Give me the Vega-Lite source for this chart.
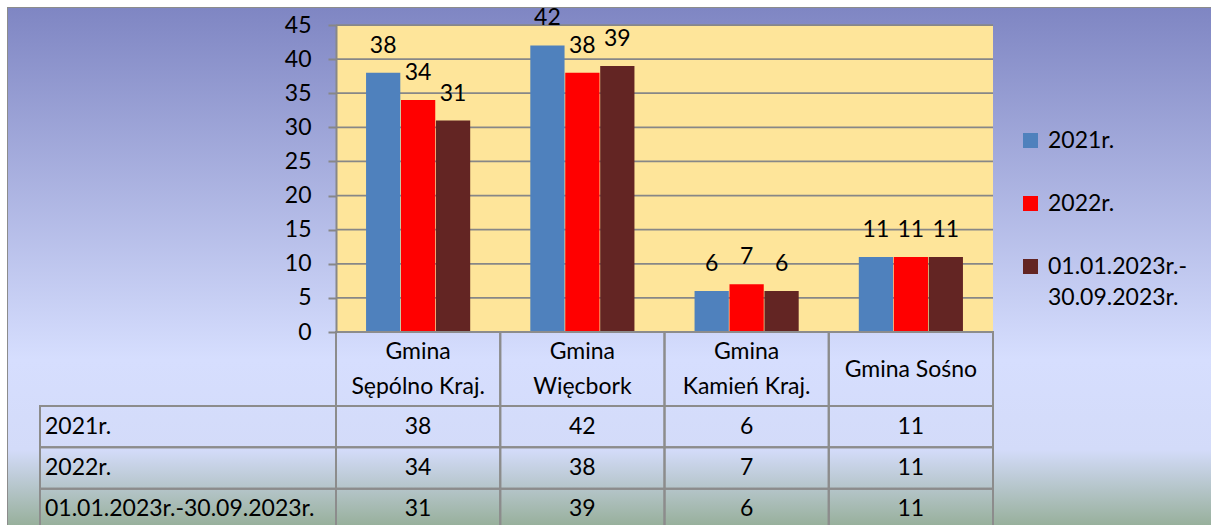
{
  "$schema": "https://vega.github.io/schema/vega-lite/v6.json",
  "width": 1203,
  "height": 517,
  "autosize": "none",
  "padding": {"left": 8, "top": 8, "right": 0, "bottom": 0},
  "background": "white",
  "config": {
    "view": {"stroke": "#8C8C8C", "strokeWidth": 2},
    "font": "Lato",
    "text": {"font": "Lato", "fontSize": 23, "color": "black"}
  },
  "datasets": {
    "dane": [
      {"gmina": "Gmina Sępólno Kraj.", "okres": "2021r.", "liczba": 38},
      {"gmina": "Gmina Sępólno Kraj.", "okres": "2022r.", "liczba": 34},
      {"gmina": "Gmina Sępólno Kraj.", "okres": "01.01.2023r.-30.09.2023r.", "liczba": 31},
      {"gmina": "Gmina Więcbork", "okres": "2021r.", "liczba": 42},
      {"gmina": "Gmina Więcbork", "okres": "2022r.", "liczba": 38},
      {"gmina": "Gmina Więcbork", "okres": "01.01.2023r.-30.09.2023r.", "liczba": 39},
      {"gmina": "Gmina Kamień Kraj.", "okres": "2021r.", "liczba": 6},
      {"gmina": "Gmina Kamień Kraj.", "okres": "2022r.", "liczba": 7},
      {"gmina": "Gmina Kamień Kraj.", "okres": "01.01.2023r.-30.09.2023r.", "liczba": 6},
      {"gmina": "Gmina Sośno", "okres": "2021r.", "liczba": 11},
      {"gmina": "Gmina Sośno", "okres": "2022r.", "liczba": 11},
      {"gmina": "Gmina Sośno", "okres": "01.01.2023r.-30.09.2023r.", "liczba": 11}
    ],
    "gminy": [
      {"gmina": "Gmina Sępólno Kraj."},
      {"gmina": "Gmina Więcbork"},
      {"gmina": "Gmina Kamień Kraj."},
      {"gmina": "Gmina Sośno"}
    ],
    "naglowki": [
      {"gmina": "Gmina Sępólno Kraj.", "tekst": "Gmina", "wiersz": "górny"},
      {"gmina": "Gmina Sępólno Kraj.", "tekst": "Sępólno Kraj.", "wiersz": "dolny"},
      {"gmina": "Gmina Więcbork", "tekst": "Gmina", "wiersz": "górny"},
      {"gmina": "Gmina Więcbork", "tekst": "Więcbork", "wiersz": "dolny"},
      {"gmina": "Gmina Kamień Kraj.", "tekst": "Gmina", "wiersz": "górny"},
      {"gmina": "Gmina Kamień Kraj.", "tekst": "Kamień Kraj.", "wiersz": "dolny"},
      {"gmina": "Gmina Sośno", "tekst": "Gmina Sośno", "wiersz": "środkowy"}
    ],
    "siatka": [
      {"wartosc": 0}, {"wartosc": 5}, {"wartosc": 10}, {"wartosc": 15}, {"wartosc": 20},
      {"wartosc": 25}, {"wartosc": 30}, {"wartosc": 35}, {"wartosc": 40}, {"wartosc": 45}
    ]
  },
  "layer": [
    {
      "data": {"values": [{}]},
      "mark": {
        "type": "rect",
        "strokeWidth": 0,
        "fill": {
          "gradient": "linear", "x1": 0, "y1": 0, "x2": 0, "y2": 1,
          "stops": [
            {"offset": 0, "color": "#7F86C3"},
            {"offset": 0.68, "color": "#D6DEFE"},
            {"offset": 0.855, "color": "#D3DBF9"},
            {"offset": 1, "color": "#98B09C"}
          ]
        }
      },
      "encoding": {}
    },
    {
      "layer": [
        {
          "data": {"values": [{}]},
          "mark": {"type": "rect", "color": "#FEE59A", "strokeWidth": 0},
          "encoding": {
            "x": {"datum": 0, "type": "quantitative", "scale": {"domain": [0, 1], "range": [328, 985], "nice": false, "zero": false}, "axis": null},
            "x2": {"datum": 1},
            "y": {"datum": 0, "type": "quantitative", "scale": {"domain": [0, 45], "range": [324, 17], "nice": false}, "axis": null},
            "y2": {"datum": 45}
          }
        },
        {
          "data": {"name": "siatka"},
          "mark": {"type": "rule", "color": "#878787", "strokeWidth": 1.75},
          "encoding": {
            "x": {"datum": 0, "type": "quantitative"},
            "x2": {"datum": 1},
            "y": {"field": "wartosc", "type": "quantitative"}
          }
        }
      ]
    },
    {
      "data": {"name": "dane"},
      "layer": [
        {
          "mark": {"type": "bar", "strokeWidth": 0},
          "encoding": {
            "x": {"field": "gmina", "type": "nominal", "sort": null,
              "scale": {"domain": ["Gmina Sępólno Kraj.", "Gmina Więcbork", "Gmina Kamień Kraj.", "Gmina Sośno"], "range": [328, 985], "paddingInner": 0, "paddingOuter": 0},
              "axis": null},
            "xOffset": {"field": "okres", "type": "nominal",
              "scale": {"domain": ["2021r.", "2022r.", "01.01.2023r.-30.09.2023r."], "paddingInner": 0.02, "paddingOuter": 0.86}},
            "y": {"field": "liczba", "type": "quantitative",
              "scale": {"domain": [0, 45], "range": [324, 17], "nice": false},
              "axis": {"orient": "left", "offset": -328, "values": [0, 5, 10, 15, 20, 25, 30, 35, 40, 45], "grid": false, "title": null,
                "domainColor": "#878787", "domainWidth": 2, "tickColor": "#878787", "tickWidth": 2, "tickSize": 8,
                "labelFont": "Lato", "labelFontSize": 23, "labelColor": "black", "labelPadding": 17, "zindex": 1}},
            "color": {"field": "okres", "type": "nominal",
              "scale": {"domain": ["2021r.", "2022r.", "01.01.2023r.-30.09.2023r."], "range": ["#4F81BD", "#FF0000", "#632523"]},
              "legend": {"orient": "none", "legendX": 1011, "legendY": 121, "title": null, "padding": 0,
                "symbolType": "square", "symbolSize": 225, "symbolStrokeWidth": 0, "symbolOpacity": 1,
                "labelFont": "Lato", "labelFontSize": 23, "labelColor": "black", "labelOffset": 6, "rowPadding": 39,
                "labelLimit": 200,
                "encode": {"labels": {"update": {"lineHeight": {"value": 31}}}},
                "labelExpr": "datum.label == '01.01.2023r.-30.09.2023r.' ? ['01.01.2023r.-', '30.09.2023r.'] : datum.label"}}
          }
        },
        {
          "mark": {"type": "text", "baseline": "middle", "dy": -27, "fontSize": 23},
          "encoding": {
            "x": {"field": "gmina", "type": "nominal", "sort": null},
            "xOffset": {"field": "okres", "type": "nominal"},
            "y": {"field": "liczba", "type": "quantitative"},
            "text": {"field": "liczba", "type": "quantitative"}
          }
        }
      ]
    },
    {
      "layer": [
        {
          "data": {"name": "gminy"},
          "mark": {"type": "rect", "fill": null, "fillOpacity": 0, "stroke": "#8C8C8C", "strokeWidth": 2},
          "encoding": {
            "x": {"field": "gmina", "type": "nominal", "sort": null,
              "scale": {"domain": ["Gmina Sępólno Kraj.", "Gmina Więcbork", "Gmina Kamień Kraj.", "Gmina Sośno"], "range": [328, 985], "paddingInner": 0, "paddingOuter": 0},
              "axis": null},
            "y": {"datum": "naglowek", "type": "nominal", "scale": {"domain": ["naglowek"], "range": [324, 398], "paddingInner": 0, "paddingOuter": 0}, "axis": null}
          }
        },
        {
          "data": {"name": "naglowki"},
          "mark": {"type": "text", "baseline": "middle", "align": "center", "fontSize": 23},
          "encoding": {
            "x": {"field": "gmina", "type": "nominal", "sort": null},
            "y": {"field": "wiersz", "type": "ordinal", "scale": {"type": "point", "domain": ["górny", "środkowy", "dolny"], "range": [344, 379], "padding": 0}, "axis": null},
            "text": {"field": "tekst", "type": "nominal"}
          }
        }
      ],
      "resolve": {"scale": {"y": "independent"}, "axis": {"y": "independent"}}
    },
    {
      "data": {"name": "dane"},
      "layer": [
        {
          "transform": [{"aggregate": [{"op": "count", "as": "n"}], "groupby": ["okres"]}],
          "layer": [
            {
              "mark": {"type": "rect", "fill": null, "fillOpacity": 0, "stroke": "#8C8C8C", "strokeWidth": 2},
              "encoding": {
                "x": {"datum": "etykieta", "type": "nominal", "scale": {"domain": ["etykieta"], "range": [32, 328], "paddingInner": 0, "paddingOuter": 0}, "axis": null},
                "y": {"field": "okres", "type": "nominal", "sort": null,
                  "scale": {"domain": ["2021r.", "2022r.", "01.01.2023r.-30.09.2023r."], "range": [398, 522], "paddingInner": 0, "paddingOuter": 0},
                  "axis": null}
              }
            },
            {
              "mark": {"type": "text", "baseline": "middle", "align": "left", "dx": 5, "fontSize": 23},
              "encoding": {
                "x": {"datum": "etykieta", "type": "nominal", "bandPosition": 0},
                "y": {"field": "okres", "type": "nominal", "sort": null},
                "text": {"field": "okres", "type": "nominal"}
              }
            }
          ]
        },
        {
          "layer": [
            {
              "mark": {"type": "rect", "fill": null, "fillOpacity": 0, "stroke": "#8C8C8C", "strokeWidth": 2},
              "encoding": {
                "x": {"field": "gmina", "type": "nominal", "sort": null,
                  "scale": {"domain": ["Gmina Sępólno Kraj.", "Gmina Więcbork", "Gmina Kamień Kraj.", "Gmina Sośno"], "range": [328, 985], "paddingInner": 0, "paddingOuter": 0},
                  "axis": null},
                "y": {"field": "okres", "type": "nominal", "sort": null}
              }
            },
            {
              "mark": {"type": "text", "baseline": "middle", "align": "center", "fontSize": 23},
              "encoding": {
                "x": {"field": "gmina", "type": "nominal", "sort": null},
                "y": {"field": "okres", "type": "nominal", "sort": null},
                "text": {"field": "liczba", "type": "quantitative"}
              }
            }
          ]
        }
      ],
      "resolve": {"scale": {"x": "independent"}, "axis": {"x": "independent"}}
    }
  ],
  "resolve": {"scale": {"x": "independent", "y": "independent", "xOffset": "independent"}, "axis": {"x": "independent", "y": "independent"}}
}
